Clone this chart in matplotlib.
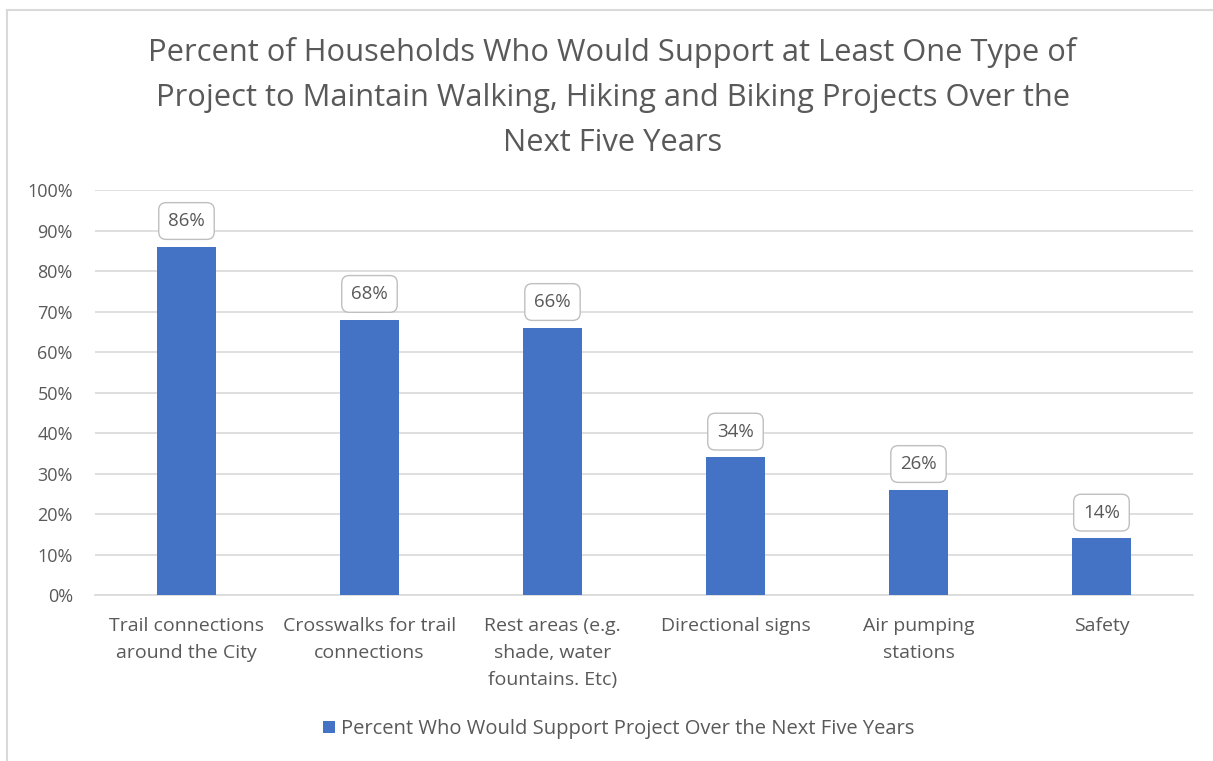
import matplotlib
matplotlib.use("Agg")
import matplotlib.pyplot as plt
from matplotlib.ticker import FuncFormatter, MultipleLocator
from matplotlib.patches import Patch
from matplotlib.lines import Line2D

categories = ["Trail connections\naround the City", "Crosswalks for trail\nconnections",
              "Rest areas (e.g.\nshade, water\nfountains. Etc)", "Directional signs",
              "Air pumping\nstations", "Safety"]
values = [86, 68, 66, 34, 26, 14]
series_name = "Percent Who Would Support Project Over the Next Five Years"
title = ("Percent of Households Who Would Support at Least One Type of\n"
         "Project to Maintain Walking, Hiking and Biking Projects Over the\n"
         "Next Five Years")

plt.rcParams['font.family'] = ['Open Sans', 'DejaVu Sans']
text_color = "#595959"
bar_color = "#4472C4"

fig = plt.figure(figsize=(12.13, 7.61), dpi=100)
ax = fig.add_axes([0.0783, 0.2181, 0.9052, 0.5322])

x = range(len(categories))
ax.bar(x, values, width=0.32, color=bar_color, zorder=3)
ax.set_xlim(-0.5, len(categories) - 0.5)
ax.set_ylim(0, 100)
ax.yaxis.set_major_locator(MultipleLocator(10))
ax.yaxis.set_major_formatter(FuncFormatter(lambda v, p: f"{v:.0f}%"))
ax.grid(axis='y', color="#D9D9D9", linewidth=1.2, zorder=0)
for s in ['top', 'right', 'left']:
    ax.spines[s].set_visible(False)
ax.spines['bottom'].set_color("#D9D9D9")
ax.spines['bottom'].set_linewidth(1.2)
ax.tick_params(axis='both', length=0, colors=text_color)
ax.tick_params(axis='y', labelsize=13, pad=16)
ax.set_xticks(list(x))
ax.set_xticklabels(categories, fontsize=14, color=text_color, linespacing=1.65)
ax.tick_params(axis='x', pad=16)

for xi, v in zip(x, values):
    ax.annotate(f"{v}%", (xi, v), xytext=(0, 18.5), textcoords='offset points',
                ha='center', va='center', fontsize=13.5, color=text_color,
                bbox=dict(boxstyle="round,pad=0.5,rounding_size=0.4", fc="white",
                          ec="#BFBFBF", lw=1.0), zorder=5)

fig.text(0.505, 0.951, title, ha='center', va='top', fontsize=22.2,
         color=text_color, linespacing=1.64)

handles = [Patch(facecolor=bar_color, edgecolor='none')]
fig.legend(handles, [series_name], loc='center', bbox_to_anchor=(0.51, 0.042),
           frameon=False, fontsize=14.5, labelcolor=text_color,
           handlelength=0.6, handleheight=0.6, handletextpad=0.3)

# outer chart frame (left and top edges visible)
fig.add_artist(Line2D([7/1213, 7/1213], [0, 1 - 10/761], transform=fig.transFigure,
                      color="#D9D9D9", lw=1.5))
fig.add_artist(Line2D([7/1213, 1], [1 - 10/761, 1 - 10/761], transform=fig.transFigure,
                      color="#D9D9D9", lw=1.5))

fig.savefig("out.png", dpi=100)
